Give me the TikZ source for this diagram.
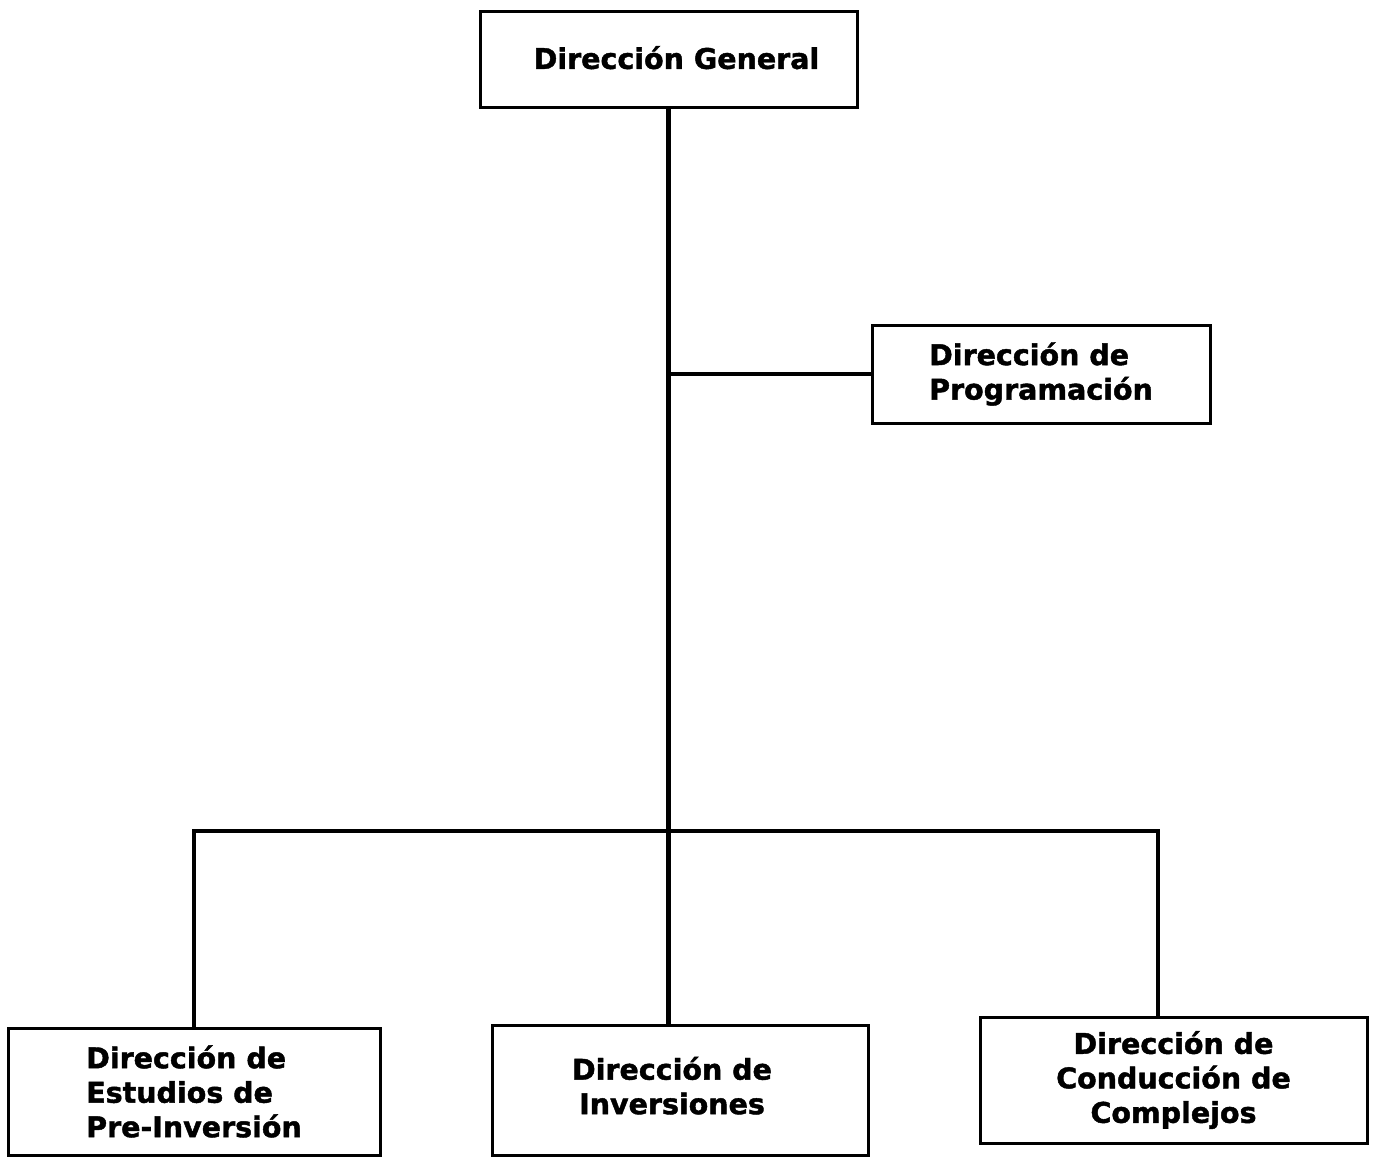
\documentclass[tikz,border=0pt]{standalone}
\usepackage{fontspec}
\setmainfont{DejaVu Sans}
\newfontfamily\orgfont{DejaVu Sans Bold}[FakeBold=1.5]
\begin{document}
\begin{tikzpicture}[x=1pt,y=-1pt,
  orgbox/.style={draw=black, line width=3pt, rectangle, inner sep=0pt,
    font=\orgfont\fontsize{28.5}{34.5}\selectfont},
  link/.style={draw=black, line width=4.5pt}]
\useasboundingbox (0,0) rectangle (1377,1161);
\node[orgbox, minimum width=377pt, minimum height=96pt] (top) at (668.5,60) {\hspace*{16pt}\raisebox{5pt}{Dirección General}};
\node[orgbox, minimum width=338pt, minimum height=98pt, align=left] (prog) at (1041,374) {Dirección de\\Programación};
\node[orgbox, minimum width=372pt, minimum height=127pt, align=left] (pre) at (194,1091.5) {Dirección de\\Estudios de\\Pre-Inversión};
\node[orgbox, minimum width=376pt, minimum height=130pt] (inv) at (680,1090) {\raisebox{6pt}{\begin{tabular}{@{}c@{}}Dirección de\\Inversiones\end{tabular}}\hspace*{16pt}};
\node[orgbox, minimum width=387pt, minimum height=126pt, align=center] (comp) at (1173.5,1080) {Dirección de\\Conducción de\\Complejos};
\coordinate (bL) at (194,831);
\coordinate (bR) at (1158,831);
\draw[link] (top.south) -- (top.south |- inv.north);
\draw[link] (top.south |- prog.west) -- (prog.west);
\draw[link] (pre.north) -- (bL) -- (bR) -- (bR |- comp.north);
\end{tikzpicture}
\end{document}
